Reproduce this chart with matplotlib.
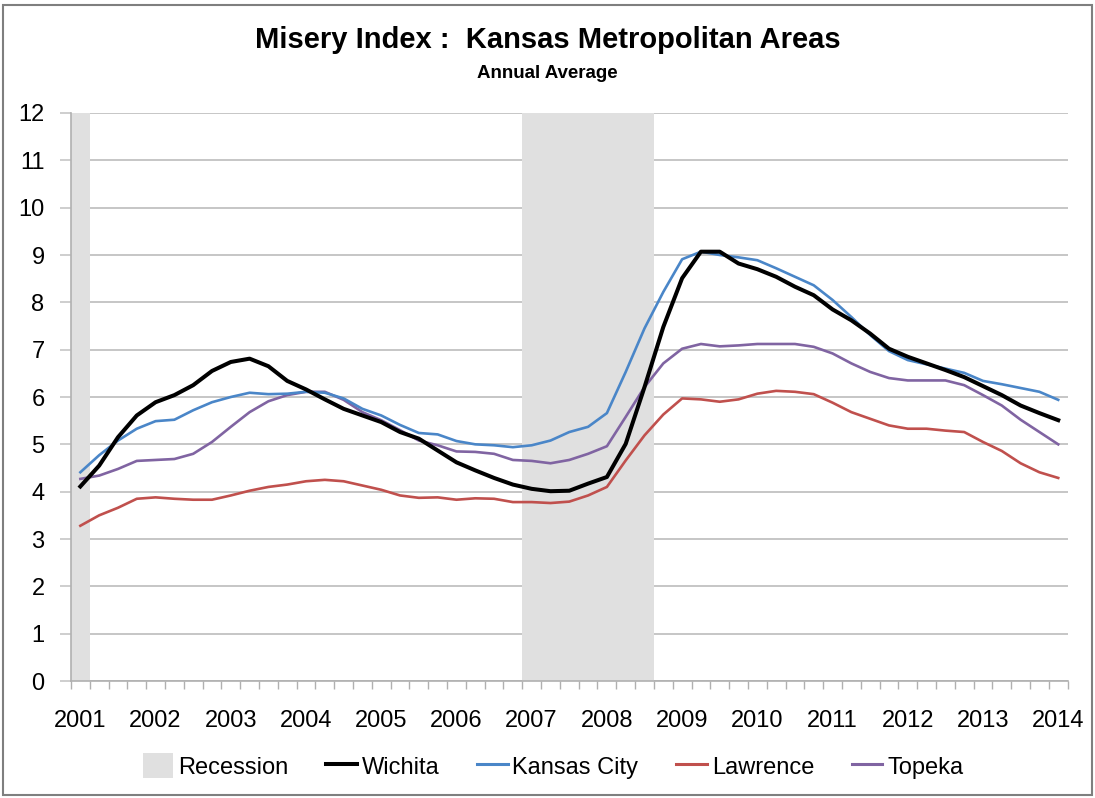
import matplotlib
matplotlib.use("Agg")
import matplotlib.pyplot as plt
from matplotlib.patches import Patch, Rectangle
from matplotlib.lines import Line2D
import numpy as np

plt.rcParams['font.family'] = ['Liberation Sans', 'DejaVu Sans']

# quarterly, 2001Q1 .. 2014Q1
years = [str(y) for y in range(2001, 2015)]

wichita = [4.11, 4.55, 5.15, 5.61, 5.89, 6.04, 6.25, 6.55, 6.74, 6.81, 6.65, 6.34, 6.16, 5.95,
           5.75, 5.61, 5.47, 5.26, 5.12, 4.87, 4.62, 4.45, 4.29, 4.15, 4.06, 4.01, 4.02,
           4.17, 4.31, 5.01, 6.21, 7.48, 8.51, 9.07, 9.07, 8.82, 8.70, 8.54, 8.33, 8.15, 7.85,
           7.62, 7.34, 7.02, 6.85, 6.71, 6.57, 6.42, 6.23, 6.04, 5.82, 5.66, 5.51]
kansas_city = [4.41, 4.77, 5.08, 5.33, 5.49, 5.52, 5.72, 5.89, 6.00, 6.09, 6.06, 6.07, 6.11, 6.09,
               5.97, 5.75, 5.61, 5.41, 5.24, 5.21, 5.07, 5.00, 4.98, 4.94, 4.98, 5.08, 5.26,
               5.37, 5.66, 6.53, 7.45, 8.22, 8.91, 9.07, 9.00, 8.95, 8.89, 8.72, 8.54, 8.36, 8.05,
               7.69, 7.31, 6.97, 6.78, 6.69, 6.60, 6.51, 6.34, 6.27, 6.19, 6.11, 5.94]
lawrence = [3.28, 3.50, 3.66, 3.85, 3.88, 3.85, 3.83, 3.83, 3.92, 4.02, 4.10, 4.15, 4.22, 4.25,
            4.22, 4.13, 4.04, 3.92, 3.87, 3.88, 3.83, 3.86, 3.85, 3.78, 3.78, 3.76, 3.79,
            3.92, 4.10, 4.66, 5.19, 5.63, 5.97, 5.95, 5.90, 5.95, 6.07, 6.13, 6.11, 6.06, 5.88,
            5.68, 5.54, 5.40, 5.33, 5.33, 5.29, 5.26, 5.05, 4.86, 4.60, 4.41, 4.29]
topeka = [4.27, 4.34, 4.48, 4.65, 4.67, 4.69, 4.80, 5.05, 5.37, 5.68, 5.91, 6.04, 6.11, 6.11,
          5.94, 5.68, 5.51, 5.30, 5.08, 4.98, 4.85, 4.84, 4.80, 4.67, 4.65, 4.60, 4.67,
          4.80, 4.96, 5.58, 6.21, 6.71, 7.02, 7.12, 7.07, 7.09, 7.12, 7.12, 7.12, 7.06, 6.92,
          6.71, 6.53, 6.40, 6.35, 6.35, 6.35, 6.25, 6.04, 5.82, 5.52, 5.26, 5.00]

# recession quarters (first, last) as quarter index
recessions = [(0, 0), (24, 30)]

n = len(wichita)
x = np.arange(n)

fig = plt.figure(figsize=(10.95, 7.98), dpi=100)
ax = fig.add_axes([0.0648, 0.1466, 0.9102, 0.7118])

for a, b in recessions:
    ax.axvspan(a - 0.5, b + 0.5, color='#e0e0e0', lw=0, zorder=1)

ax.set_yticks(range(0, 13))
ax.yaxis.grid(True, color='#c6c6c6', lw=1.4, zorder=0)
ax.set_axisbelow(True)

ax.plot(x, lawrence, color='#c0504d', lw=1.9, zorder=3)
ax.plot(x, topeka, color='#8064a2', lw=1.9, zorder=3)
ax.plot(x, kansas_city, color='#4a86c8', lw=1.9, zorder=4)
ax.plot(x, wichita, color='black', lw=2.9, zorder=5)

ax.set_xlim(-0.5, n - 0.5)
ax.set_ylim(0, 12)

ax.set_xticks(np.arange(0, n, 4))
ax.set_xticklabels(years, fontsize=17)
ax.set_xticks(np.arange(-0.5, n, 1), minor=True)
ax.tick_params(axis='x', which='major', length=0, pad=21)
ax.tick_params(axis='x', which='minor', length=6, color='#b0b0b0', width=1)
ax.tick_params(axis='y', length=8, color='#c6c6c6', width=1.2, labelsize=17, pad=11)

for s in ['top', 'right']:
    ax.spines[s].set_visible(False)
for s in ['left', 'bottom']:
    ax.spines[s].set_color('#b0b0b0')
    ax.spines[s].set_linewidth(1.2)

fig.text(0.5, 1 - 40 / 798, 'Misery Index :  Kansas Metropolitan Areas',
         ha='center', va='center', fontsize=21, fontweight='bold')
fig.text(0.5, 1 - 73 / 798, 'Annual Average', ha='center', va='center',
         fontsize=13.5, fontweight='bold')

handles = [Patch(facecolor='#e0e0e0', edgecolor='none'),
           Line2D([], [], color='black', lw=2.9),
           Line2D([], [], color='#4a86c8', lw=2.2),
           Line2D([], [], color='#c0504d', lw=2.2),
           Line2D([], [], color='#8064a2', lw=2.2)]
labels = ['Recession', 'Wichita', 'Kansas City', 'Lawrence', 'Topeka']
fig.legend(handles, labels, loc='center', bbox_to_anchor=(0.505, 1 - 766 / 798),
           ncol=5, frameon=False, fontsize=17, handlelength=1.3, handleheight=1.2,
           handletextpad=0.2, columnspacing=1.6)

fig.patches.append(Rectangle((0.003, 0.004), 0.994, 0.99, transform=fig.transFigure,
                             fill=False, edgecolor='#7f7f7f', lw=1.5))

fig.savefig('out.png', dpi=100)
